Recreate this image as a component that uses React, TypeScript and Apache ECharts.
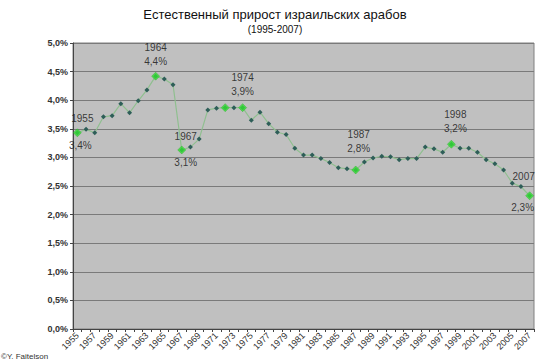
import React, { useEffect, useRef } from "react";
import * as echarts from "echarts";

const years: string[] = [];
for (let y = 1955; y <= 2007; y++) years.push(String(y));

const growthRate: number[] = [
  3.43, 3.49, 3.43, 3.71, 3.73, 3.94, 3.78, 3.99, 4.18, 4.42,
  4.37, 4.27, 3.13, 3.18, 3.32, 3.83, 3.86, 3.87, 3.87, 3.87,
  3.65, 3.79, 3.59, 3.44, 3.40, 3.16, 3.04, 3.04, 2.98, 2.91,
  2.82, 2.80, 2.78, 2.92, 2.99, 3.02, 3.01, 2.96, 2.98, 2.98,
  3.18, 3.15, 3.09, 3.23, 3.16, 3.16, 3.09, 2.96, 2.89, 2.78,
  2.55, 2.49, 2.33,
];

const highlightYears: string[] = ["1955", "1964", "1967", "1972", "1974", "1987", "1998", "2007"];
const annotatedYears: string[] = ["1955", "1964", "1967", "1974", "1987", "1998", "2007"];
const annotationValues: string[] = ["3,4%", "4,4%", "3,1%", "3,9%", "2,8%", "3,2%", "2,3%"];
const yTicks: number[] = [0, 0.5, 1, 1.5, 2, 2.5, 3, 3.5, 4, 4.5, 5];

const labelLayouts: Record<string, any> = {
  "1955": { kind: "split", offsetTop: [5, -2], offsetBottom: [3, 1] },
  "1964": { kind: "above", offset: [0, -3] },
  "1967": { kind: "split", offsetTop: [4, -1], offsetBottom: [4, 1] },
  "1974": { kind: "above", offset: [0, -4] },
  "1987": { kind: "above", offset: [3, -9] },
  "1998": { kind: "above", offset: [4, -4] },
  "2007": { kind: "split", offsetTop: [-6, -7], offsetBottom: [-7, 0] },
};

export default function App() {
  const ref = useRef<HTMLDivElement>(null);
  useEffect(() => {
    if (!ref.current) return;
    const chart = echarts.init(ref.current, null, { renderer: "svg" });
    const font = "Arial, 'Liberation Sans', sans-serif";

    const hlData = highlightYears.map((y) => [y, growthRate[years.indexOf(y)]]);

    const topLabels: any[] = [];
    const bottomLabels: any[] = [];
    annotatedYears.forEach((y, i) => {
      const v = growthRate[years.indexOf(y)];
      const lay = labelLayouts[y];
      if (lay.kind === "above") {
        topLabels.push({
          value: [y, v],
          label: {
            show: true,
            position: "top",
            offset: lay.offset,
            formatter: y + "\n" + annotationValues[i],
          },
        });
      } else {
        topLabels.push({
          value: [y, v],
          label: { show: true, position: "top", offset: lay.offsetTop, formatter: y },
        });
        bottomLabels.push({
          value: [y, v],
          label: { show: true, position: "bottom", offset: lay.offsetBottom, formatter: annotationValues[i] },
        });
      }
    });

    const labelStyle = {
      color: "#111",
      fontFamily: font,
      fontSize: 10,
      lineHeight: 14,
    };

    chart.setOption({
      animation: false,
      backgroundColor: "#ffffff",
      title: {
        text: "Естественный прирост израильских арабов",
        subtext: "(1995-2007)",
        left: "center",
        top: 3,
        itemGap: 3,
        textStyle: { fontFamily: font, fontSize: 13, fontWeight: "normal", color: "#111" },
        subtextStyle: { fontFamily: font, fontSize: 10, color: "#111" },
      },
      graphic: [
        {
          type: "text",
          left: 1,
          top: 352,
          style: { text: "©Y. Faitelson", fontFamily: font, fontSize: 8, fill: "#333" },
        },
      ],
      grid: {
        left: 73,
        right: 16,
        top: 43,
        bottom: 35,
        show: true,
        backgroundColor: "#c0c0c0",
        borderColor: "#808080",
        borderWidth: 1,
      },
      xAxis: {
        type: "category",
        data: years,
        boundaryGap: true,
        axisLine: { lineStyle: { color: "#444" } },
        axisTick: { show: true, interval: 0, length: 3, lineStyle: { color: "#444" } },
        axisLabel: {
          interval: 1,
          rotate: 45,
          fontFamily: font,
          fontSize: 9,
          color: "#333",
          margin: 5,
        },
        splitLine: { show: false },
      },
      yAxis: {
        type: "value",
        min: 0,
        max: 5,
        interval: 0.5,
        axisLine: { show: true, lineStyle: { color: "#444" } },
        axisTick: { show: true, length: 3, lineStyle: { color: "#444" } },
        axisLabel: {
          fontFamily: font,
          fontSize: 9,
          fontWeight: "bold",
          color: "#333",
          margin: 5,
          formatter: (v: number) =>
            yTicks.indexOf(v) >= 0 ? v.toFixed(1).replace(".", ",") + "%" : "",
        },
        splitLine: { show: true, lineStyle: { color: "#7a7a7a", width: 1.2 } },
      },
      series: [
        {
          type: "line",
          data: growthRate,
          symbol: "diamond",
          symbolSize: 5,
          itemStyle: { color: "#2e5e58" },
          lineStyle: { color: "#8fbf8f", width: 1.2 },
          z: 2,
        },
        {
          type: "scatter",
          data: hlData,
          symbol: "diamond",
          symbolSize: 8,
          itemStyle: { color: "#33e033", borderColor: "#22aa22", borderWidth: 0.5 },
          z: 3,
        },
        {
          type: "scatter",
          data: topLabels,
          symbolSize: 0,
          label: { ...labelStyle },
          z: 4,
        },
        {
          type: "scatter",
          data: bottomLabels,
          symbolSize: 0,
          label: { ...labelStyle },
          z: 4,
        },
      ],
    });
    return () => chart.dispose();
  }, []);
  return (
    <div
      ref={ref}
      style={{ position: "absolute", left: 0, top: 0, width: 550, height: 364 }}
    />
  );
}
